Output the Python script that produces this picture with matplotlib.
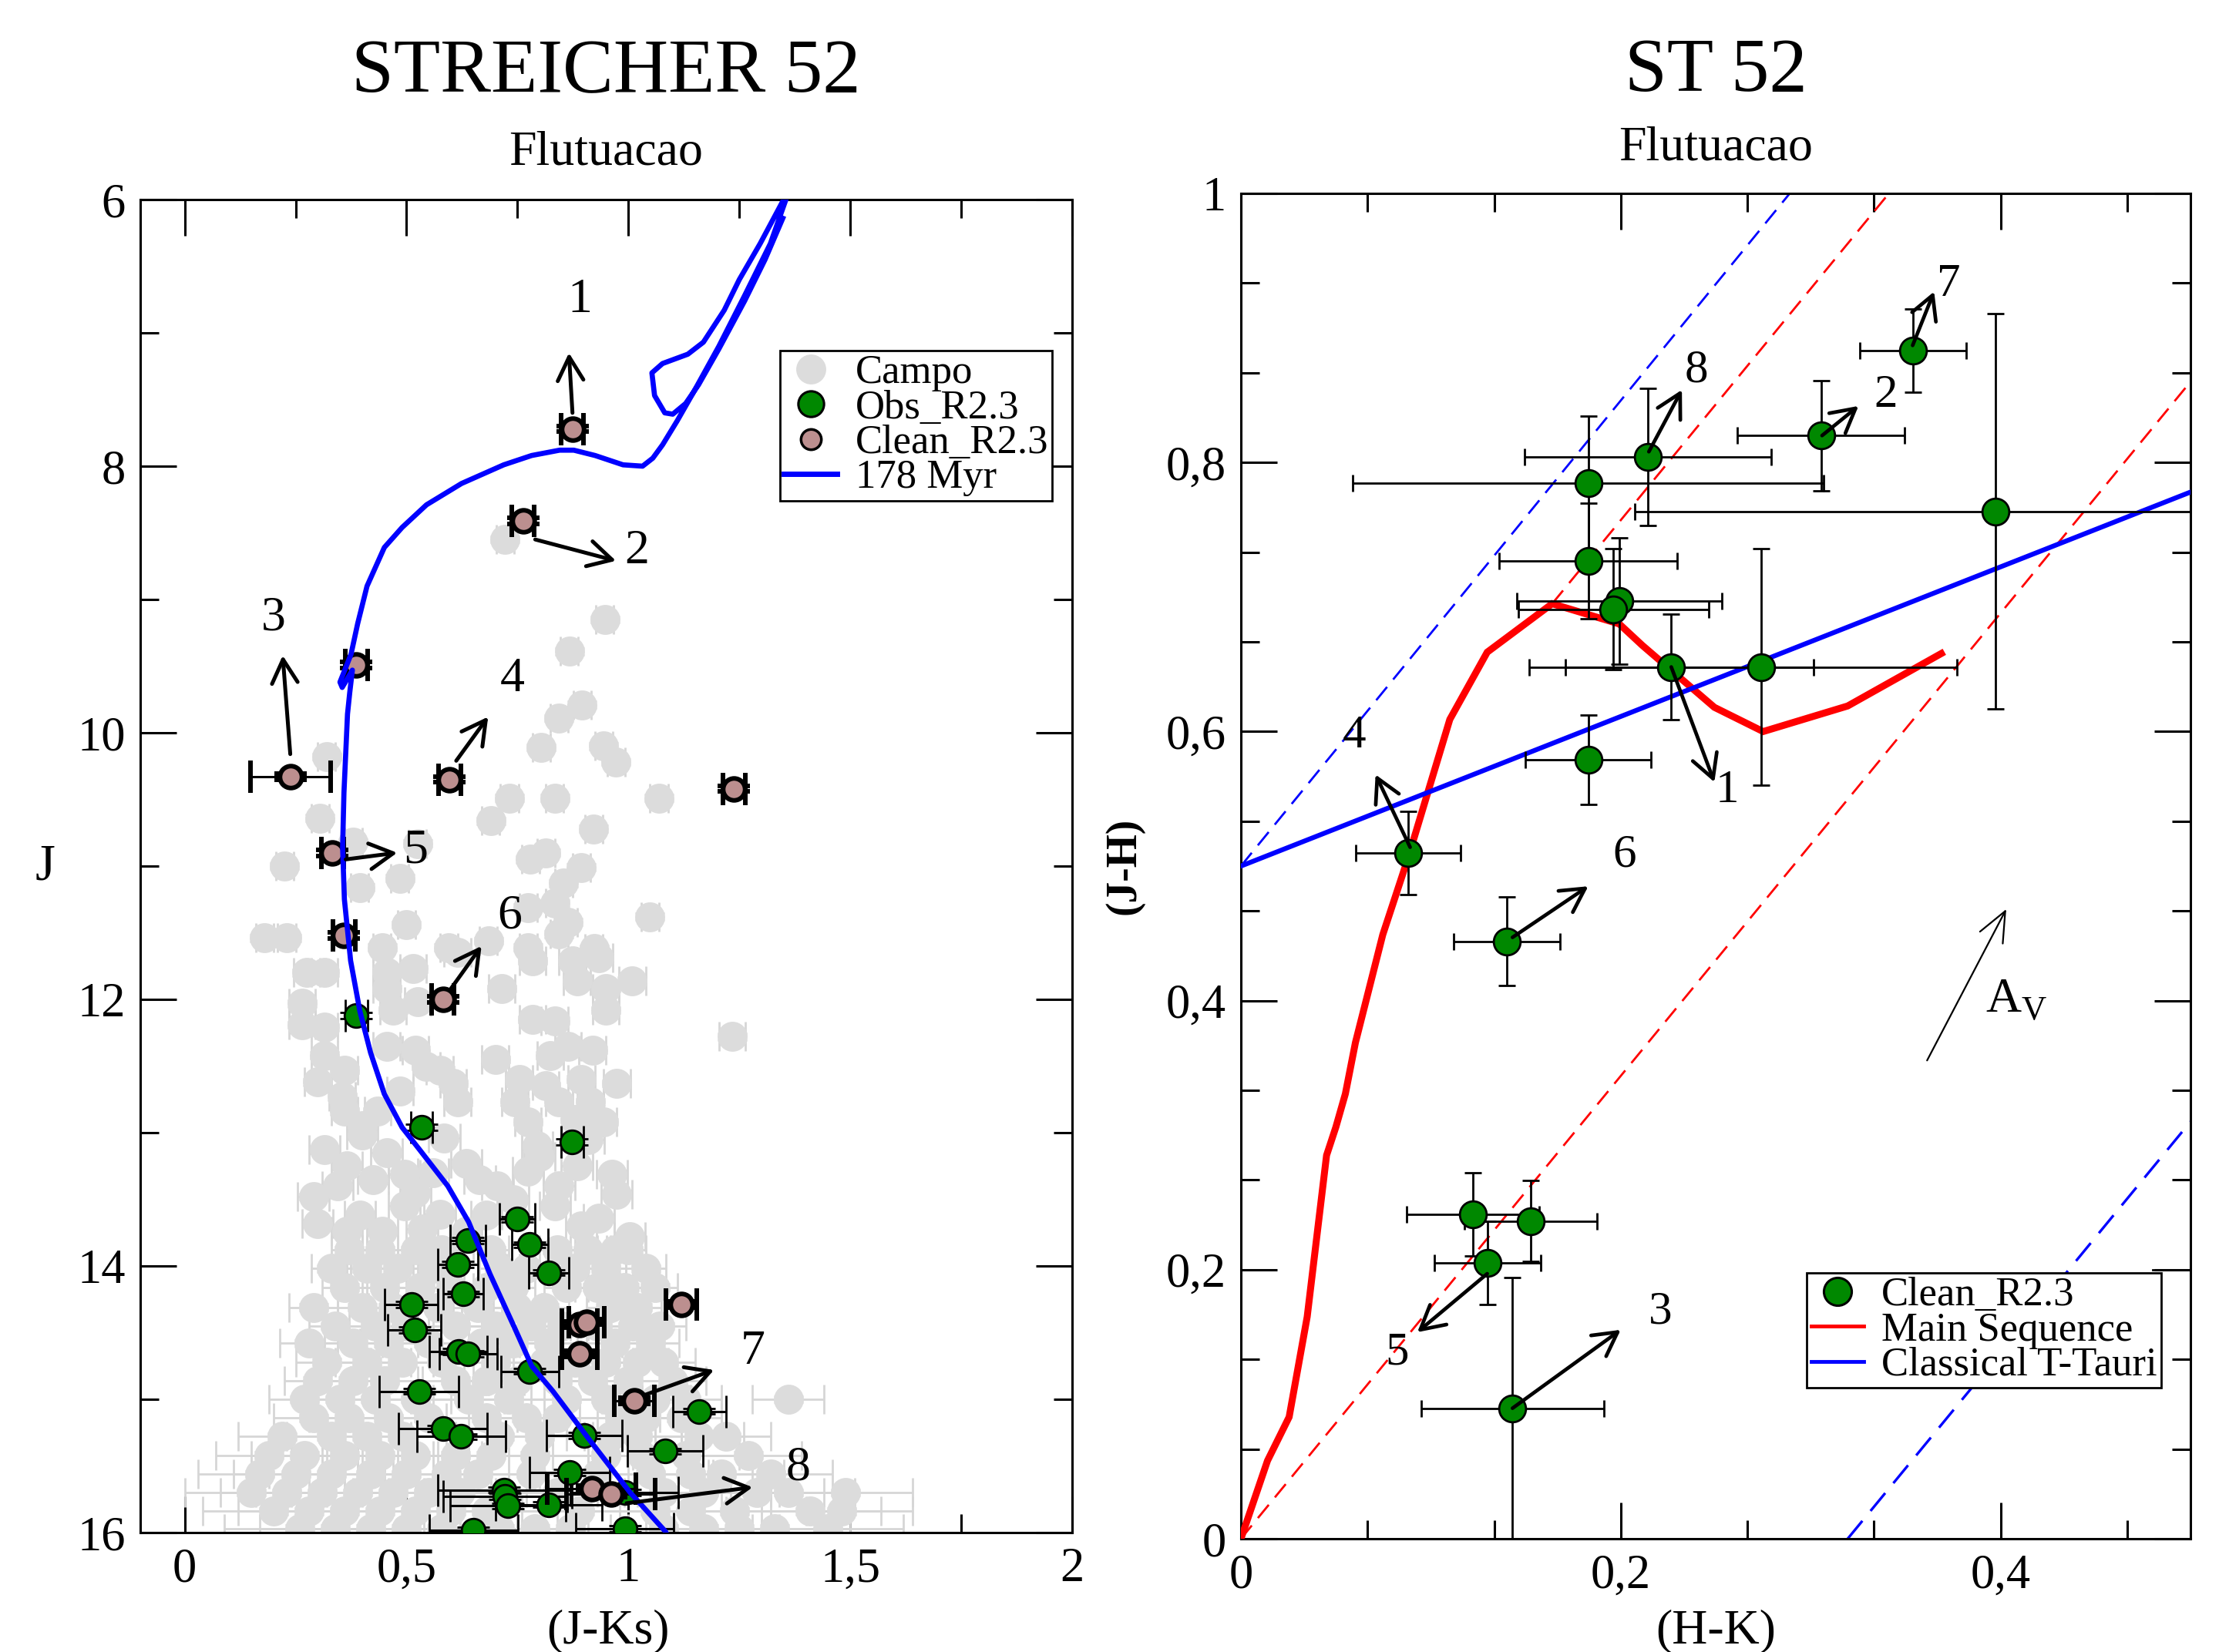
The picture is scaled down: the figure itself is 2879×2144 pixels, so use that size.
import matplotlib
matplotlib.use('Agg')
import matplotlib.pyplot as plt
from matplotlib.lines import Line2D

plt.rcParams['font.family'] = ['Liberation Serif', 'DejaVu Serif']
plt.rcParams['mathtext.fontset'] = 'custom'
plt.rcParams['mathtext.rm'] = 'Liberation Serif'

GREY = '#dcdcdc'
GREY_BAR = '#d6d6d6'
GREEN = '#008800'
ROSY = '#bc8f8f'
BLUE = '#0000ff'
RED = '#ff0000'

# ================= LEFT PANEL (CMD) DATA =================
iso_jk = [1.090, 1.083, 1.004, 0.909, 0.830, 0.782, 0.743, 0.688, 0.640, 0.593, 0.530, 0.490,
          0.450, 0.419, 0.395, 0.374, 0.360, 0.356, 0.359, 0.367, 0.372, 0.378, 0.355, 0.350,
          0.362, 0.375, 0.390, 0.411, 0.450, 0.490, 0.545, 0.624, 0.719, 0.782, 0.845, 0.877,
          0.925, 0.988, 1.032, 1.055, 1.077, 1.110, 1.146, 1.204, 1.262, 1.320, 1.355, 1.370,
          1.362, 1.349, 1.297, 1.250, 1.216, 1.169, 1.134, 1.077, 1.053, 1.059, 1.082, 1.100,
          1.129, 1.158, 1.204, 1.262, 1.308, 1.348]
iso_j = [16.03, 15.99, 15.70, 15.29, 14.94, 14.75, 14.46, 14.06, 13.67, 13.40, 13.13, 12.96,
         12.71, 12.40, 12.09, 11.71, 11.25, 10.86, 10.45, 9.86, 9.70, 9.53, 9.66, 9.62,
         9.52, 9.41, 9.18, 8.90, 8.61, 8.46, 8.29, 8.13, 7.99, 7.92, 7.88, 7.88,
         7.92, 7.99, 8.00, 7.94, 7.84, 7.66, 7.45, 7.10, 6.72, 6.33, 6.00, 5.90,
         5.92, 6.006, 6.33, 6.60, 6.83, 7.07, 7.16, 7.23, 7.30, 7.47, 7.60, 7.61,
         7.53, 7.39, 7.12, 6.76, 6.45, 6.14]

# field stars (Campo) - bright sparse part
campo_a_jk = [0.722, 0.947, 0.867, 0.896, 0.844, 0.804, 0.944, 0.972, 0.320, 0.732, 0.834, 1.069,
              0.690, 0.305, 0.922, 0.225, 0.380, 0.485, 0.525, 0.779, 0.894, 0.814, 0.854, 0.395,
              0.834, 0.774, 1.049, 0.500, 0.180, 0.230, 0.595, 0.685, 0.774, 0.844, 0.864, 0.923,
              0.445]
campo_a_j = [8.55, 9.15, 9.39, 9.79, 9.89, 10.11, 10.10, 10.22, 10.18, 10.49, 10.49, 10.49,
             10.66, 10.64, 10.72, 11.00, 10.82, 11.09, 10.83, 10.95, 11.01, 10.90, 11.13, 11.16,
             11.28, 11.31, 11.38, 11.44, 11.54, 11.54, 11.61, 11.56, 11.61, 11.51, 11.42, 11.62,
             11.61]
campo_b_jk = [0.275, 0.315, 0.265, 0.265, 0.315, 0.455, 0.515, 0.470, 0.525, 0.455, 0.615, 0.715,
              0.784, 0.784, 0.834, 0.884, 0.949, 0.949, 1.009, 0.874, 0.934, 1.234, 0.315, 0.360,
              0.455, 0.520, 0.575, 0.605, 0.545, 0.485, 0.355, 0.360, 0.435, 0.615, 0.824, 0.864,
              0.919, 0.754, 0.814, 0.894, 0.974, 0.744, 0.844, 0.914, 0.944, 0.774, 0.300, 0.400,
              0.880, 0.700]
campo_b_j = [11.80, 11.80, 12.03, 12.19, 12.21, 11.80, 11.77, 12.08, 12.02, 11.92, 11.65, 11.92,
             11.71, 12.15, 12.16, 11.86, 11.92, 12.08, 11.86, 11.71, 11.69, 12.28, 12.42, 12.53,
             12.35, 12.38, 12.53, 12.63, 12.50, 12.69, 12.73, 12.84, 12.84, 12.77, 12.42, 12.35,
             12.38, 12.60, 12.65, 12.60, 12.63, 12.77, 12.77, 12.77, 12.92, 12.92, 12.62, 12.95,
             12.90, 12.45]
campo_c_jk = [0.794, 0.315, 0.365, 0.455, 0.585, 0.635, 0.665, 0.705, 0.425, 0.495, 0.290, 0.345,
              0.395, 0.495, 0.575, 0.774, 0.884, 0.844, 0.963, 0.974, 0.934, 0.834, 0.894, 1.003,
              0.365, 0.445, 0.535, 0.635, 0.400, 0.520, 0.740, 0.680, 0.560, 0.910, 0.300, 0.800]
campo_c_j = [13.10, 13.13, 13.25, 13.15, 13.04, 13.23, 13.35, 13.40, 13.35, 13.31, 13.48, 13.40,
             13.62, 13.55, 13.61, 13.29, 13.25, 13.40, 13.31, 13.46, 13.64, 13.55, 13.70, 13.78,
             13.74, 13.74, 13.72, 13.74, 13.02, 13.45, 13.50, 13.62, 13.30, 13.05, 13.68, 13.18]
# faint dense part: (J, list of J-Ks, J-Ks error)
campo_rows = [
    (13.88, [0.37, 0.44, 0.52, 0.58, 0.69, 0.84, 0.91, 0.97, 1.00], 0.040),
    (14.02, [0.33, 0.41, 0.48, 0.56, 0.71, 0.77, 0.88, 0.95, 1.04], 0.045),
    (14.16, [0.36, 0.45, 0.53, 0.60, 0.68, 0.74, 0.86, 0.93, 0.99, 1.06], 0.050),
    (14.31, [0.29, 0.40, 0.47, 0.57, 0.66, 0.75, 0.81, 0.96, 1.02], 0.055),
    (14.45, [0.34, 0.43, 0.50, 0.61, 0.70, 0.78, 0.85, 0.93, 1.01, 1.07], 0.060),
    (14.58, [0.28, 0.38, 0.46, 0.55, 0.67, 0.74, 0.82, 0.97, 1.05], 0.065),
    (14.72, [0.32, 0.41, 0.49, 0.58, 0.70, 0.81, 0.88, 0.95, 1.02, 1.08], 0.070),
    (14.86, [0.30, 0.38, 0.45, 0.61, 0.68, 0.75, 0.84, 0.92, 1.00, 1.10], 0.075),
    (15.00, [0.27, 0.35, 0.43, 0.52, 0.64, 0.73, 0.86, 0.95, 1.06, 1.13, 1.36], 0.080),
    (15.14, [0.29, 0.37, 0.46, 0.55, 0.68, 0.77, 0.84, 0.98, 1.04, 1.12], 0.090),
    (15.28, [0.22, 0.33, 0.41, 0.49, 0.71, 0.80, 0.96, 1.02, 1.16, 1.22], 0.100),
    (15.42, [0.19, 0.27, 0.36, 0.44, 0.52, 0.61, 0.69, 0.79, 0.95, 1.03, 1.13, 1.27], 0.120),
    (15.56, [0.17, 0.25, 0.33, 0.42, 0.50, 0.59, 0.66, 0.78, 0.93, 1.05, 1.14, 1.21, 1.32], 0.140),
    (15.70, [0.15, 0.23, 0.31, 0.39, 0.47, 0.55, 0.62, 0.84, 1.08, 1.17, 1.29, 1.36, 1.49], 0.150),
    (15.84, [0.20, 0.28, 0.36, 0.44, 0.52, 0.60, 0.68, 0.89, 1.06, 1.14, 1.24, 1.41, 1.48], 0.160),
    (15.97, [0.26, 0.34, 0.42, 0.50, 0.58, 0.71, 0.79, 0.87, 1.08, 1.17, 1.25, 1.33, 1.45], 0.170),
]

obs_jk = [0.387, 0.534, 0.873, 0.749, 0.639, 0.778, 0.615, 0.821, 0.628, 0.511, 0.518, 0.617,
          0.639, 0.778, 0.528, 1.160, 0.582, 0.623, 0.900, 1.083, 0.868, 0.720, 0.722, 0.728,
          0.820, 0.992, 0.651, 0.992]
obs_j = [12.12, 12.96, 13.07, 13.65, 13.81, 13.84, 13.99, 14.05, 14.21, 14.29, 14.48, 14.64,
         14.66, 14.79, 14.94, 15.09, 15.22, 15.28, 15.27, 15.39, 15.55, 15.68, 15.73, 15.80,
         15.79, 15.70, 15.98, 15.97]
obs_ejk = [0.025, 0.025, 0.025, 0.040, 0.040, 0.040, 0.045, 0.045, 0.045, 0.060, 0.060, 0.065,
           0.065, 0.065, 0.090, 0.060, 0.100, 0.100, 0.085, 0.085, 0.090, 0.150, 0.140, 0.130,
           0.120, 0.120, 0.100, 0.110]

clean_jk = [0.874, 0.763, 0.387, 0.239, 0.597, 1.238, 0.333, 0.359, 0.582, 1.119, 0.890, 0.906,
            0.890, 1.014, 0.917, 0.961]
clean_j = [7.72, 8.41, 9.49, 10.33, 10.35, 10.42, 10.90, 11.52, 12.00, 14.29, 14.44, 14.42,
           14.66, 15.01, 15.67, 15.71]
clean_ejk = [0.025, 0.025, 0.025, 0.090, 0.025, 0.025, 0.025, 0.025, 0.025, 0.035, 0.040, 0.040,
             0.040, 0.045, 0.100, 0.100]

# reddening arrows on CMD: label, tail (J-Ks, J), tip (J-Ks, J), label position
cmd_labels = ['1', '2', '3', '4', '5', '6', '7', '8']
cmd_tail = [(0.874, 7.60), (0.790, 8.55), (0.238, 10.16), (0.612, 10.21), (0.363, 10.95),
            (0.600, 11.92), (1.035, 14.97), (0.996, 15.78)]
cmd_tip = [(0.866, 7.15), (0.972, 8.71), (0.221, 9.42), (0.684, 9.88), (0.479, 10.90),
           (0.669, 11.60), (1.193, 14.78), (1.280, 15.66)]
cmd_lab = [(0.890, 6.76), (1.019, 8.64), (0.200, 9.14), (0.738, 9.60), (0.521, 10.89),
           (0.732, 11.38), (1.280, 14.65), (1.383, 15.52)]

# ================= RIGHT PANEL (colour-colour) DATA =================
ccd_hk = [0.3537, 0.3055, 0.2144, 0.1829, 0.3973, 0.1829, 0.1992, 0.1962, 0.2266, 0.2740,
          0.1829, 0.0880, 0.1400, 0.1221, 0.1526, 0.1297, 0.1430]
ccd_jh = [0.883, 0.820, 0.804, 0.7845, 0.7637, 0.7268, 0.6968, 0.691, 0.648, 0.648,
          0.579, 0.5098, 0.444, 0.2411, 0.2361, 0.2049, 0.097]
ccd_ehk = [0.028, 0.044, 0.065, 0.124, 0.190, 0.047, 0.054, 0.050, 0.075, 0.103,
           0.033, 0.0275, 0.028, 0.035, 0.035, 0.028, 0.048]
ccd_ejh = [0.031, 0.041, 0.051, 0.050, 0.147, 0.043, 0.047, 0.045, 0.039, 0.088,
           0.033, 0.031, 0.033, 0.031, 0.030, 0.031, 0.097]

ms_hk = [0.0, 0.014, 0.0254, 0.0349, 0.0451, 0.050, 0.055, 0.0603, 0.0747, 0.088, 0.110,
         0.1297, 0.1639, 0.1992, 0.2114, 0.2493, 0.275, 0.3195, 0.3688]
ms_jh = [0.0, 0.058, 0.0905, 0.165, 0.285, 0.306, 0.3307, 0.3688, 0.449, 0.506, 0.609,
         0.659, 0.695, 0.680, 0.664, 0.618, 0.600, 0.619, 0.658]
ctts_hk = [0.0, 0.5]
ctts_jh = [0.5, 0.778]
red_dash1_hk = [0.0, 0.5]
red_dash1_jh = [0.0, 0.86]
red_dash2_hk = [0.1639, 0.3412]
red_dash2_jh = [0.695, 1.0]
blue_dash1_hk = [0.0, 0.289]
blue_dash1_jh = [0.5, 1.0]
blue_dash2_hk = [0.3195, 0.5]
blue_dash2_jh = [0.0, 0.31]

ccd_labels = ['7', '2', '8', '1', '4', '6', '5', '3']
ccd_tail = [(0.3537, 0.887), (0.306, 0.820), (0.2148, 0.808), (0.2266, 0.648), (0.0891, 0.514),
            (0.143, 0.447), (0.1297, 0.197), (0.143, 0.097)]
ccd_tip = [(0.365, 0.927), (0.3252, 0.842), (0.2322, 0.854), (0.2493, 0.5624), (0.0709, 0.568),
           (0.1829, 0.485), (0.0929, 0.1535), (0.200, 0.1553)]
ccd_lab = [(0.3727, 0.932), (0.3396, 0.850), (0.2398, 0.8685), (0.2560, 0.556), (0.0596, 0.5964),
           (0.2019, 0.508), (0.0824, 0.138), (0.2207, 0.1687)]
av_tail = (0.3613, 0.3555)
av_tip = (0.403, 0.468)

# ================= FIGURE =================
W, H = 2879, 2144
fig = plt.figure(figsize=(W / 100, H / 100), dpi=100)
ax1 = fig.add_axes([182 / W, 1 - 1989 / H, (1391 - 182) / W, (1989 - 259) / H])
ax2 = fig.add_axes([1610 / W, 1 - 1997 / H, (2842 - 1610) / W, (1997 - 251) / H])

TICKFS = 45


def style_axes(ax):
    for s in ax.spines.values():
        s.set_linewidth(2.2)
    ax.tick_params(which='both', direction='in', top=True, right=True, width=2.2,
                   labelsize=TICKFS)
    ax.tick_params(which='major', length=34)
    ax.tick_params(which='minor', length=17)
    ax.tick_params(axis='y', pad=14)
    ax.tick_params(axis='x', pad=14)


# ---------- left ----------
campo_jk, campo_j, campo_ejk = [], [], []
for xs, ys, e in [(campo_a_jk, campo_a_j, 0.02), (campo_b_jk, campo_b_j, 0.03),
                  (campo_c_jk, campo_c_j, 0.035)]:
    campo_jk += xs
    campo_j += ys
    campo_ejk += [e] * len(xs)
for jrow, xs, e in campo_rows:
    campo_jk += xs
    campo_j += [jrow] * len(xs)
    campo_ejk += [e] * len(xs)

ax1.errorbar(campo_jk, campo_j, xerr=campo_ejk, yerr=0.025, fmt='o', ms=28, mfc=GREY,
             mec='none', ecolor=GREY_BAR, elinewidth=2, capsize=14, capthick=2, zorder=2)
ax1.errorbar(obs_jk, obs_j, xerr=obs_ejk, yerr=0.022, fmt='o', ms=22, mfc=GREEN, mec='k',
             mew=2, ecolor='k', elinewidth=2.2, capsize=15, capthick=2.2, zorder=3)
ax1.errorbar(clean_jk, clean_j, xerr=clean_ejk, yerr=0.022, fmt='o', ms=20.5, mfc=ROSY,
             mec='k', mew=4.3, ecolor='k', elinewidth=2.2, capsize=15, capthick=2.2, zorder=4)
ax1.plot(iso_jk, iso_j, color=BLUE, lw=4.8, zorder=5, solid_joinstyle='round')

for lab, t0, t1, lp in zip(cmd_labels, cmd_tail, cmd_tip, cmd_lab):
    ax1.annotate('', xy=t1, xytext=t0,
                 arrowprops=dict(arrowstyle='->,head_length=0.55,head_width=0.3', lw=3.6,
                                 color='k', mutation_scale=40, shrinkA=0, shrinkB=0),
                 zorder=6)
    ax1.text(lp[0], lp[1], lab, fontsize=46, ha='center', va='center', zorder=6)

ax1.set_xlim(-0.1, 2.0)
ax1.set_ylim(16, 6)
ax1.set_xticks([0, 0.5, 1.0, 1.5, 2.0])
ax1.set_xticklabels(['0', '0,5', '1', '1,5', '2'])
ax1.set_xticks([0.25, 0.75, 1.25, 1.75], minor=True)
ax1.set_yticks([6, 8, 10, 12, 14, 16])
ax1.set_yticklabels(['6', '8', '10', '12', '14', '16'])
ax1.set_yticks([7, 9, 11, 13, 15], minor=True)
style_axes(ax1)

h1 = [Line2D([], [], ls='none', marker='o', ms=28, mfc=GREY, mec='none'),
      Line2D([], [], ls='none', marker='o', ms=24, mfc=GREEN, mec='k', mew=2.2),
      Line2D([], [], ls='none', marker='o', ms=19, mfc=ROSY, mec='k', mew=2.5),
      Line2D([], [], color=BLUE, lw=5)]
leg1 = ax1.legend(h1, ['Campo', 'Obs_R2.3', 'Clean_R2.3', '178 Myr'], loc='upper left',
                  bbox_to_anchor=(0.6865, 0.8867), borderaxespad=0, fontsize=38,
                  frameon=True, fancybox=False, edgecolor='k', framealpha=1, borderpad=0.1,
                  labelspacing=-0.05, handlelength=1.3, handletextpad=0.45)
leg1.get_frame().set_linewidth(2)
leg1.set_zorder(10)

# ---------- right ----------
ax2.plot(ms_hk, ms_jh, color=RED, lw=6.5, zorder=3, solid_joinstyle='miter')
ax2.plot(ctts_hk, ctts_jh, color=BLUE, lw=4.5, zorder=3)
ax2.plot(red_dash1_hk, red_dash1_jh, color=RED, lw=2, dashes=(8, 4.5), zorder=2)
ax2.plot(red_dash2_hk, red_dash2_jh, color=RED, lw=2, dashes=(8, 4.5), zorder=2)
ax2.plot(blue_dash1_hk, blue_dash1_jh, color=BLUE, lw=2, dashes=(8, 4.5), zorder=2)
ax2.plot(blue_dash2_hk, blue_dash2_jh, color=BLUE, lw=2.4, dashes=(9, 5), zorder=2)
ax2.errorbar(ccd_hk, ccd_jh, xerr=ccd_ehk, yerr=ccd_ejh, fmt='o', ms=25, mfc=GREEN, mec='k',
             mew=2, ecolor='k', elinewidth=2.0, capsize=8, capthick=2.0, zorder=4)

for lab, t0, t1, lp in zip(ccd_labels, ccd_tail, ccd_tip, ccd_lab):
    ax2.annotate('', xy=t1, xytext=t0,
                 arrowprops=dict(arrowstyle='->,head_length=0.55,head_width=0.3', lw=3.4,
                                 color='k', mutation_scale=40, shrinkA=0, shrinkB=0),
                 zorder=6)
    ax2.text(lp[0], lp[1], lab, fontsize=44, ha='center', va='center', zorder=6)

ax2.annotate('', xy=av_tip, xytext=av_tail,
             arrowprops=dict(arrowstyle='->,head_length=0.7,head_width=0.3', lw=1.6,
                             color='k', mutation_scale=40, shrinkA=0, shrinkB=0))
ax2.text(0.392, 0.400, r'$\mathrm{A}_{\mathrm{V}}$', fontsize=46, ha='left', va='center')

ax2.set_xlim(0, 0.5)
ax2.set_ylim(0, 1)
ax2.set_xticks([0, 0.2, 0.4])
ax2.set_xticklabels(['0', '0,2', '0,4'])
ax2.set_xticks([0.2 / 3, 0.4 / 3, 0.8 / 3, 1.0 / 3, 1.4 / 3], minor=True)
ax2.set_yticks([0, 0.2, 0.4, 0.6, 0.8, 1.0])
ax2.set_yticklabels(['0', '0,2', '0,4', '0,6', '0,8', '1'])
ax2.set_yticks([k * 0.2 / 3 for k in (1, 2, 4, 5, 7, 8, 10, 11, 13, 14)], minor=True)
style_axes(ax2)

h2 = [Line2D([], [], ls='none', marker='o', ms=26, mfc=GREEN, mec='k', mew=2.2),
      Line2D([], [], color=RED, lw=3.5),
      Line2D([], [], color=BLUE, lw=3.5)]
leg2 = ax2.legend(h2, ['Clean_R2.3', 'Main Sequence', 'Classical T-Tauri'], loc='upper left',
                  bbox_to_anchor=(0.596, 0.1976), borderaxespad=0, fontsize=38,
                  frameon=True, fancybox=False, edgecolor='k', framealpha=1, borderpad=0.1,
                  labelspacing=-0.05, handlelength=1.3, handletextpad=0.43)
leg2.get_frame().set_linewidth(2)
leg2.set_zorder(10)
ax2.axhline(0.2, xmin=0.96, xmax=1.0, color='k', lw=2, zorder=9)

# ---------- titles & labels ----------
fig.text(786 / W, 1 - 119 / H, 'STREICHER 52', ha='center', va='baseline', fontsize=71)
fig.text(2226 / W, 1 - 118 / H, 'ST 52', ha='center', va='baseline', fontsize=71)
fig.text(786 / W, 1 - 213 / H, 'Flutuacao', ha='center', va='baseline', fontsize=46)
fig.text(2226 / W, 1 - 208 / H, 'Flutuacao', ha='center', va='baseline', fontsize=46)
fig.text(789 / W, 1 - 2117 / H, '(J-Ks)', ha='center', va='center', fontsize=46)
fig.text(2226 / W, 1 - 2117 / H, '(H-K)', ha='center', va='center', fontsize=46)
fig.text(59 / W, 1 - 1125 / H, 'J', ha='center', va='center', fontsize=48)
fig.text(1459 / W, 1 - 1124 / H, '(J-H)', ha='center', va='center', fontsize=40,
         fontweight='bold', rotation=90)

fig.savefig('out.png', dpi=100)
